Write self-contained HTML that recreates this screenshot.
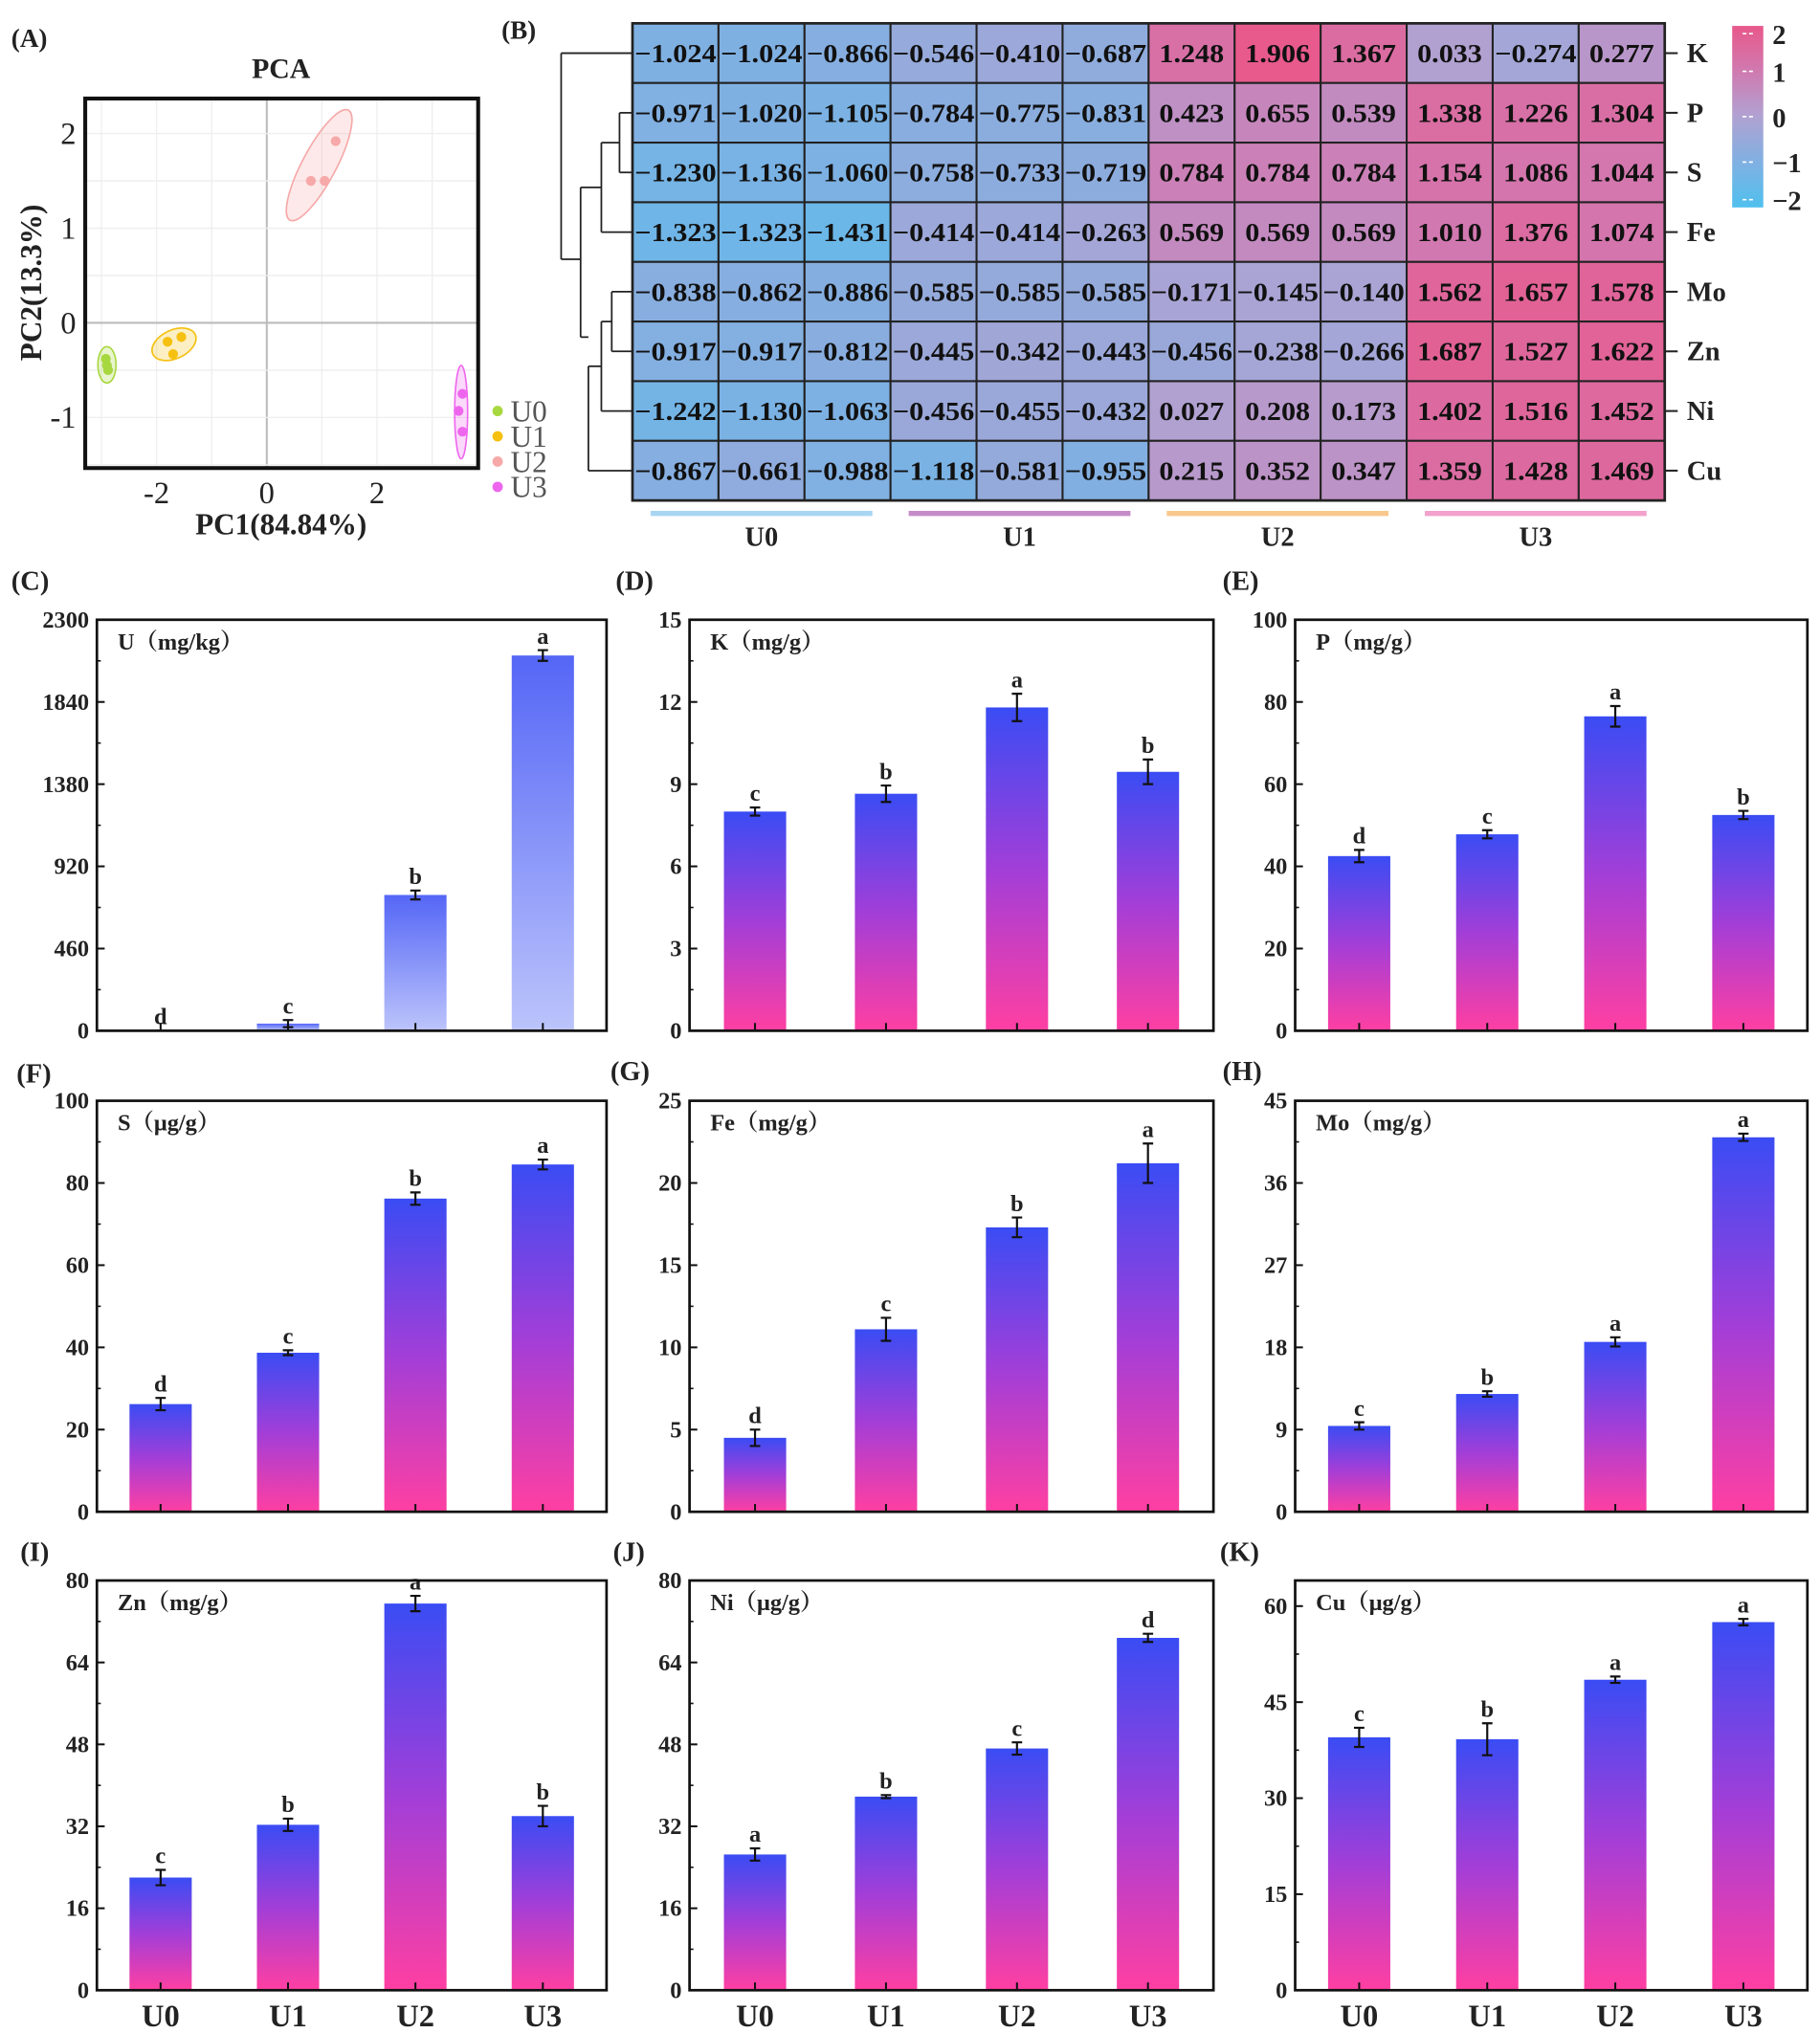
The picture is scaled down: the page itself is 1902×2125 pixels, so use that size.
<!DOCTYPE html>
<html><head><meta charset="utf-8"><style>
html,body{margin:0;padding:0;background:#fff;}
svg{display:block;font-family:"Liberation Serif","Noto Serif CJK SC",serif;font-weight:bold;}
</style></head><body>
<svg id="fig" xmlns="http://www.w3.org/2000/svg" width="1902" height="2125" viewBox="0 0 1402 1568">
<defs>
<linearGradient id="gU" x1="0" y1="0" x2="0" y2="1"><stop offset="0" stop-color="#5566f6"/><stop offset="1" stop-color="#bcc4fb"/></linearGradient>
<linearGradient id="gB" x1="0" y1="0" x2="0" y2="1"><stop offset="0" stop-color="#3a4cf4"/><stop offset="0.5" stop-color="#a23ed8"/><stop offset="1" stop-color="#ff3fa2"/></linearGradient>
<linearGradient id="gCB" x1="0" y1="0" x2="0" y2="1"><stop offset="0" stop-color="#e8588a"/><stop offset="0.25" stop-color="#d07ab0"/><stop offset="0.5" stop-color="#b0a2d2"/><stop offset="0.75" stop-color="#80b0e2"/><stop offset="1" stop-color="#50c0ee"/></linearGradient>
</defs>
</svg>
<script>
// ---------- PCA data ----------
const pcaGroups = ["U0","U1","U2","U3"];
const pcaColors = ["#a8d840","#f5c010","#f7a8a8","#ee66ee"];
const pcaX = [[-2.92,-2.88,-2.9],[-1.8,-1.55,-1.7],[0.8,1.05,1.25],[3.55,3.48,3.55]];
const pcaY = [[-0.38,-0.5,-0.45],[-0.2,-0.15,-0.33],[1.5,1.5,1.92],[-0.75,-0.93,-1.15]];
const pcaXTicks = [-2,0,2];
const pcaYTicks = [2,1,0,-1];
// ---------- Heatmap data ----------
const hmRows = ["K","P","S","Fe","Mo","Zn","Ni","Cu"];
const hmGroups = ["U0","U1","U2","U3"];
const hmVals = [
[-1.024,-1.024,-0.866,-0.546,-0.410,-0.687,1.248,1.906,1.367,0.033,-0.274,0.277],
[-0.971,-1.020,-1.105,-0.784,-0.775,-0.831,0.423,0.655,0.539,1.338,1.226,1.304],
[-1.230,-1.136,-1.060,-0.758,-0.733,-0.719,0.784,0.784,0.784,1.154,1.086,1.044],
[-1.323,-1.323,-1.431,-0.414,-0.414,-0.263,0.569,0.569,0.569,1.010,1.376,1.074],
[-0.838,-0.862,-0.886,-0.585,-0.585,-0.585,-0.171,-0.145,-0.140,1.562,1.657,1.578],
[-0.917,-0.917,-0.812,-0.445,-0.342,-0.443,-0.456,-0.238,-0.266,1.687,1.527,1.622],
[-1.242,-1.130,-1.063,-0.456,-0.455,-0.432,0.027,0.208,0.173,1.402,1.516,1.452],
[-0.867,-0.661,-0.988,-1.118,-0.581,-0.955,0.215,0.352,0.347,1.359,1.428,1.469]];
const cbTicks = [2,1,0,-1,-2];
// ---------- Bar panels data ----------
const barCats = ["U0","U1","U2","U3"];
const panelLetters = ["C","D","E","F","G","H","I","J","K"];
const panelTitles = ["U（mg/kg）","K（mg/g）","P（mg/g）","S（μg/g）","Fe（mg/g）","Mo（mg/g）","Zn（mg/g）","Ni（μg/g）","Cu（μg/g）"];
const panelMax = [2300,15,100,100,25,45,80,80,64];
const panelTicks = [[0,460,920,1380,1840,2300],[0,3,6,9,12,15],[0,20,40,60,80,100],[0,20,40,60,80,100],[0,5,10,15,20,25],[0,9,18,27,36,45],[0,16,32,48,64,80],[0,16,32,48,64,80],[0,15,30,45,60]];
const valsU = [0,40,760,2100];
const valsK = [8.0,8.65,11.8,9.45];
const valsP = [42.5,47.8,76.5,52.5];
const valsS = [26.2,38.7,76.2,84.5];
const valsFe = [4.5,11.1,17.3,21.2];
const valsMo = [9.4,12.9,18.6,41.0];
const valsZn = [22.0,32.3,75.5,34.0];
const valsNi = [26.5,37.8,47.2,68.8];
const valsCu = [39.5,39.2,48.5,57.5];
const errU = [0,20,25,30];
const errK = [0.15,0.3,0.5,0.45];
const errP = [1.5,1,2.5,1];
const errS = [1.5,0.6,1.5,1.2];
const errFe = [0.5,0.7,0.6,1.2];
const errMo = [0.4,0.3,0.5,0.4];
const errZn = [1.5,1.2,1.5,2];
const errNi = [1.2,0.3,1.2,0.8];
const errCu = [1.5,2.5,0.5,0.5];
const lettersU = ["d","c","b","a"];
const lettersK = ["c","b","a","b"];
const lettersP = ["d","c","a","b"];
const lettersS = ["d","c","b","a"];
const lettersFe = ["d","c","b","a"];
const lettersMo = ["c","b","a","a"];
const lettersZn = ["c","b","a","b"];
const lettersNi = ["a","b","c","d"];
const lettersCu = ["c","b","a","a"];

const svg = document.getElementById('fig');
const NS = "http://www.w3.org/2000/svg";
function mk(tag, attrs, parent){
  const e = document.createElementNS(NS, tag);
  for (const k in attrs) e.setAttribute(k, attrs[k]);
  (parent||svg).appendChild(e);
  return e;
}
function txt(s, x, y, size, anchor, parent){
  const t = mk('text', {x:x, y:y, 'font-size':size, 'text-anchor':anchor||'middle', fill:'#222'}, parent);
  t.textContent = s;
  return t;
}
function fmt(v){ return (v<0?'\u2212':'') + Math.abs(v).toFixed(3); }

// ================= PCA =================
const gA = mk('g', {});


let t = txt('(A)', 8, 36, 20, 'start', gA);


t = txt('PCA', 216, 60, 22, 'middle', gA);


const pL=65,pR=368,pT=76,pB=361;
const px = v => 205 + v*42.5;
const py = v => 249 - v*73;
for (let v=-3; v<=3; v++){
  const l = mk('line',{x1:px(v),x2:px(v),y1:pT,y2:pB,stroke:v===0?'#bbb':'#eee','stroke-width':v===0?1.5:1},gA);
  
  
}
for (let v=-1.5; v<=2.2; v+=0.5){
  const l = mk('line',{x1:pL,x2:pR,y1:py(v),y2:py(v),stroke:v===0?'#bbb':'#eee','stroke-width':v===0?1.5:1},gA);
  
  
}
const fr = mk('rect',{x:pL,y:pT,width:pR-pL,height:pB-pT,fill:'none',stroke:'#111','stroke-width':3},gA);


pcaXTicks.forEach(v=>{
  const e = txt(String(v), px(v), 388, 24, 'middle', gA);
  e.setAttribute('font-weight','normal');
  
  
});
pcaYTicks.forEach(v=>{
  const e = txt(String(v), 58, py(v)+8, 24, 'end', gA);
  e.setAttribute('font-weight','normal');
  
  
});
t = txt('PC1(84.84%)', 216, 412, 23, 'middle', gA);


t = txt('PC2(13.3%)', 0, 0, 23, 'middle', gA);
t.setAttribute('transform','translate(31,218) rotate(-90)');


// ellipse shape (rx, ry, angle) per group - styling
const ellShape = [[7,14,0],[18,11,-25],[48,13,-62],[5,36,0]];
pcaGroups.forEach((g,i)=>{
  const xs=pcaX[i], ys=pcaY[i];
  const mx=(xs[0]+xs[1]+xs[2])/3, my=(ys[0]+ys[1]+ys[2])/3;
  const cx=px(mx), cy=py(my);
  const s=ellShape[i];
  const el = mk('ellipse',{cx:cx,cy:cy-(i===2?4:0),rx:s[0],ry:s[1],transform:`rotate(${s[2]} ${cx} ${cy})`,fill:pcaColors[i],'fill-opacity':0.25,stroke:pcaColors[i],'stroke-width':1.2},gA);
  
  
  xs.forEach((xv,j)=>{
    const c = mk('circle',{cx:px(xv),cy:py(ys[j]),r:3.8,fill:pcaColors[i]},gA);
    
    
  });
  const ly = 317 + i*19.5;
  const ld = mk('circle',{cx:383,cy:ly,r:4,fill:pcaColors[i]},gA);
  
  
  const lt = txt(g, 393, ly+8, 23, 'start', gA);
  lt.setAttribute('font-weight','normal');
  lt.setAttribute('fill','#555');
  
  
});

// ================= Heatmap =================
const gB = mk('g',{});


t = txt('(B)', 386, 30, 20, 'start', gB);


const hL=487, hT=18, cw=(1283-487)/12, ch=46;
const stops=[[-2,[80,192,240]],[-1,[128,176,226]],[0,[176,162,210]],[1,[210,120,176]],[2,[234,86,136]]];
function hcol(v){
  v=Math.max(-2,Math.min(2,v));
  for(let i=0;i<stops.length-1;i++){
    if(v<=stops[i+1][0]){
      const f=(v-stops[i][0])/(stops[i+1][0]-stops[i][0]);
      const a=stops[i][1], b=stops[i+1][1];
      return `rgb(${a.map((c,k)=>Math.round(c+(b[k]-c)*f)).join(',')})`;
    }
  }
}
hmVals.forEach((row,r)=>{
  row.forEach((v,c)=>{
    const x=hL+c*cw, y=hT+r*ch;
    const rc = mk('rect',{x:x,y:y,width:cw,height:ch,fill:hcol(v),stroke:'#222','stroke-width':1.5},gB);
    
    
    const tv = txt(fmt(v), x+cw/2, y+ch/2+7, 20, 'middle', gB);
    tv.setAttribute('fill','#111');
    tv.setAttribute('textLength', v<0?63:50);
    tv.setAttribute('lengthAdjust','spacingAndGlyphs');
    
    
  });
  const y=hT+r*ch+ch/2;
  const tk = mk('line',{x1:1283,x2:1293,y1:y,y2:y,stroke:'#222','stroke-width':1.5},gB);
  
  
  const rl = txt(hmRows[r], 1300, y+7, 21, 'start', gB);
  
  
});
const hb = mk('rect',{x:hL,y:hT,width:cw*12,height:ch*8,fill:'none',stroke:'#222','stroke-width':2},gB);


// dendrogram
const rY = i => hT + i*ch + ch/2;
const dendro = [
  [477,rY(1),477,rY(2)],[477,rY(1),hL,rY(1)],[477,rY(2),hL,rY(2)],
  [463,(rY(1)+rY(2))/2,477,(rY(1)+rY(2))/2],[463,rY(3),hL,rY(3)],[463,(rY(1)+rY(2))/2,463,rY(3)],
  [471,rY(4),471,rY(5)],[471,rY(4),hL,rY(4)],[471,rY(5),hL,rY(5)],
  [463,(rY(4)+rY(5))/2,471,(rY(4)+rY(5))/2],[463,rY(6),hL,rY(6)],[463,(rY(4)+rY(5))/2,463,rY(6)],
  [453,((rY(4)+rY(5))/2+rY(6))/2,463,((rY(4)+rY(5))/2+rY(6))/2],[453,rY(7),hL,rY(7)],[453,((rY(4)+rY(5))/2+rY(6))/2,453,rY(7)],
  [447,((rY(1)+rY(2))/2+rY(3))/2,463,((rY(1)+rY(2))/2+rY(3))/2],[447,260,453,260],[447,((rY(1)+rY(2))/2+rY(3))/2,447,260],
  [432,rY(0),hL,rY(0)],[432,200,447,200],[432,rY(0),432,200]
];
dendro.forEach(d=>{
  const l = mk('line',{x1:d[0],y1:d[1],x2:d[2],y2:d[3],stroke:'#222','stroke-width':1.3},gB);
  
  
});
const grpCols=['#a8d6f2','#c58cc8','#f8c88c','#f2a2cc'];
hmGroups.forEach((g,i)=>{
  const x0=hL+i*3*cw+14, x1=hL+(i+1)*3*cw-14;
  const gl = mk('line',{x1:x0,x2:x1,y1:396,y2:396,stroke:grpCols[i],'stroke-width':4},gB);
  
  
  const gt = txt(g,(x0+x1)/2,421,21,'middle',gB);
  
  
});
const cb = mk('rect',{x:1335,y:20,width:24,height:140,fill:'url(#gCB)'},gB);


cbTicks.forEach((v,i)=>{
  const y = 20 + (2-v)/4*140 + (v===2?6:v===-2?-6:0);
  const tl = mk('line',{x1:1343,x2:1351,y1:y,y2:y,stroke:'#fff','stroke-width':1.2,'stroke-dasharray':'3 2'},gB);
  
  
  const ct = txt(v<0?'\u2212'+Math.abs(v):String(v), 1366, y+8, 21, 'start', gB);
  
  
});

// ================= Bar panels =================
const allVals=[valsU,valsK,valsP,valsS,valsFe,valsMo,valsZn,valsNi,valsCu];
const allErr=[errU,errK,errP,errS,errFe,errMo,errZn,errNi,errCu];
const allLet=[lettersU,lettersK,lettersP,lettersS,lettersFe,lettersMo,lettersZn,lettersNi,lettersCu];
const colX=[[74,467],[531,935],[998,1393]];
const rowY=[[478,795],[849,1166],[1219,1535]];
const labelPos=[[8,455],[474,455],[942,455],[12,835],[470,833],[942,833],[15,1204],[472,1204],[940,1204]];
for (let p=0;p<9;p++){
  const c=p%3, r=Math.floor(p/3);
  const L=colX[c][0], R=colX[c][1], T=rowY[r][0], B=rowY[r][1];
  const g = mk('g',{});
  
  
  const pl = txt('('+panelLetters[p]+')', labelPos[p][0], labelPos[p][1], 21, 'start', g);
  
  
  const yS = v => B - v/panelMax[p]*(B-T);
  const xS = i => L + (i+0.5)*(R-L)/4;
  const bw = 48;
  allVals[p].forEach((v,i)=>{
    const bx=xS(i)-bw/2, by=yS(v);
    const b = mk('rect',{x:bx,y:by,width:bw,height:Math.max(0,B-by),fill:p===0?'url(#gU)':'url(#gB)'},g);
    
    
    const e=allErr[p][i];
    const eT=yS(v+e), eB=yS(v-e);
    const eg = mk('path',{d:`M${xS(i)} ${eT}V${eB}M${xS(i)-4} ${eT}H${xS(i)+4}M${xS(i)-4} ${eB}H${xS(i)+4}`,stroke:'#111','stroke-width':1.6,fill:'none'},g);
    
    
    const lt = txt(allLet[p][i], xS(i), eT-5, 18, 'middle', g);
    
    
    const tk = mk('line',{x1:xS(i),x2:xS(i),y1:B,y2:B-6,stroke:'#111','stroke-width':1.5},g);
    
    
    if (r===2){
      const xl = txt(barCats[i], xS(i), 1563, 24, 'middle', g);
      
      
    }
  });
  const ticks = panelTicks[p];
  ticks.forEach((v,k)=>{
    const y=yS(v);
    const tk = mk('line',{x1:L,x2:L+6,y1:y,y2:y,stroke:'#111','stroke-width':1.5},g);
    
    
    const tl = txt(String(v), L-6, y+6, 18, 'end', g);
    
    
    if (k<ticks.length-1){
      const ym=yS((v+ticks[k+1])/2);
      const mt = mk('line',{x1:L,x2:L+3,y1:ym,y2:ym,stroke:'#111','stroke-width':1.2},g);
      
      
    }
  });
  const f = mk('rect',{x:L,y:T,width:R-L,height:B-T,fill:'none',stroke:'#111','stroke-width':2},g);
  
  
  const pt = txt(panelTitles[p], L+16, T+23, 18, 'start', g);
  
  
}
</script>
</body></html>
